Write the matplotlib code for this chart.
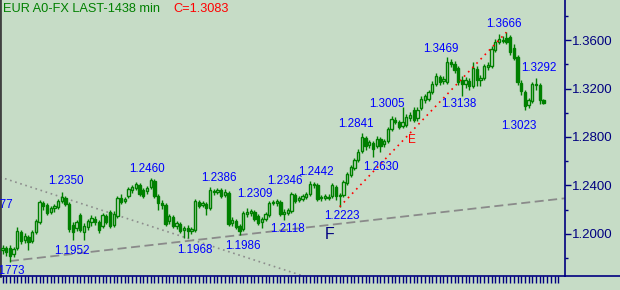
import matplotlib
matplotlib.use("Agg")
import matplotlib.pyplot as plt
from matplotlib.lines import Line2D
import numpy as np

plt.rcParams['font.family'] = ['Liberation Sans', 'DejaVu Sans']

# ---------------- data ----------------
opens = [1.1865,1.1882,1.1882,1.1832,1.1882,1.2014,1.1948,1.1973,1.1940,1.2014,
         1.2097,1.2254,1.2238,1.2180,1.2213,1.2221,1.2271,1.2295,1.2246,1.2072,
         1.2047,1.2155,1.2014,1.2055,1.2097,1.2122,1.2097,1.2064,1.2147,1.2180,
         1.2072,1.2147,1.2295,1.2271,1.2312,1.2362,1.2378,1.2403,1.2362,1.2353,
         1.2386,1.2436,1.2312,1.2254,1.2238,1.2105,1.2138,1.2064,1.2080,1.2031,
         1.2047,1.2022,1.2031,1.2262,1.2238,1.2246,1.2213,1.2353,1.2345,1.2362,
         1.2320,1.2337,1.2089,1.2105,1.2064,1.2039,1.2163,1.2171,1.2180,1.2147,
         1.2097,1.2122,1.2155,1.2254,1.2254,1.2262,1.2163,1.2171,1.2188,1.2320,
         1.2279,1.2287,1.2304,1.2329,1.2403,1.2403,1.2295,1.2295,1.2304,1.2312,
         1.2386,1.2312,1.2320,1.2420,1.2486,1.2544,1.2610,1.2684,1.2792,1.2734,
         1.2750,1.2725,1.2783,1.2742,1.2767,1.2866,1.2940,1.2924,1.2891,1.2899,
         1.2957,1.3023,1.2957,1.3040,1.3106,1.3114,1.3172,1.3238,1.3296,1.3263,
         1.3255,1.3420,1.3404,1.3371,1.3271,1.3238,1.3263,1.3222,1.3362,1.3271,
         1.3288,1.3379,1.3387,1.3519,1.3586,1.3602,1.3619,1.3627,1.3536,1.3462,
         1.3247,1.3172,1.3065,1.3098,1.3230,1.3230,1.3106]
highs = [1.1907,1.1898,1.1907,1.1890,1.2055,1.2031,1.2006,1.1989,1.2031,1.2122,
         1.2279,1.2271,1.2254,1.2229,1.2246,1.2287,1.2345,1.2312,1.2262,1.2097,
         1.2113,1.2171,1.2089,1.2122,1.2155,1.2147,1.2113,1.2171,1.2163,1.2196,
         1.2188,1.2312,1.2329,1.2304,1.2386,1.2403,1.2428,1.2420,1.2378,1.2395,
         1.2461,1.2453,1.2329,1.2279,1.2254,1.2163,1.2155,1.2105,1.2097,1.2064,
         1.2072,1.2055,1.2287,1.2279,1.2271,1.2262,1.2386,1.2370,1.2378,1.2378,
         1.2370,1.2353,1.2138,1.2122,1.2080,1.2188,1.2213,1.2204,1.2196,1.2163,
         1.2138,1.2180,1.2271,1.2279,1.2287,1.2279,1.2204,1.2213,1.2345,1.2337,
         1.2312,1.2329,1.2345,1.2436,1.2428,1.2420,1.2320,1.2329,1.2329,1.2420,
         1.2403,1.2337,1.2445,1.2511,1.2568,1.2626,1.2701,1.2833,1.2808,1.2775,
         1.2767,1.2808,1.2800,1.2783,1.2883,1.2974,1.2965,1.2940,1.3048,1.2990,
         1.3007,1.3048,1.3048,1.3139,1.3156,1.3189,1.3263,1.3329,1.3313,1.3304,
         1.3462,1.3445,1.3428,1.3387,1.3304,1.3296,1.3288,1.3420,1.3387,1.3313,
         1.3404,1.3420,1.3553,1.3610,1.3652,1.3635,1.3668,1.3643,1.3569,1.3478,
         1.3271,1.3189,1.3122,1.3255,1.3288,1.3247,1.3114]
lows = [1.1832,1.1816,1.1766,1.1808,1.1865,1.1915,1.1923,1.1865,1.1923,1.1998,
        1.2080,1.2196,1.2155,1.2163,1.2180,1.2204,1.2254,1.2229,1.2014,1.1948,
        1.2022,1.2014,1.1948,1.2031,1.2064,1.2072,1.2006,1.2047,1.2080,1.2047,
        1.2055,1.2130,1.2246,1.2254,1.2295,1.2337,1.2362,1.2312,1.2295,1.2329,
        1.2370,1.2295,1.2196,1.2204,1.2064,1.2080,1.2047,1.2039,1.2006,1.1965,
        1.1965,1.1998,1.2014,1.2213,1.2221,1.2155,1.2196,1.2320,1.2329,1.2295,
        1.2304,1.2064,1.2064,1.2039,1.1989,1.2022,1.2138,1.2147,1.2105,1.2072,
        1.2047,1.2105,1.2138,1.2238,1.2229,1.2147,1.2113,1.2155,1.2171,1.2254,
        1.2262,1.2271,1.2287,1.2312,1.2378,1.2271,1.2271,1.2279,1.2279,1.2295,
        1.2279,1.2221,1.2304,1.2403,1.2469,1.2527,1.2593,1.2668,1.2692,1.2709,
        1.2635,1.2709,1.2676,1.2717,1.2750,1.2849,1.2907,1.2866,1.2874,1.2883,
        1.2932,1.2924,1.2932,1.3023,1.3081,1.3098,1.3156,1.3222,1.3230,1.3238,
        1.3238,1.3379,1.3329,1.3230,1.3139,1.3205,1.3189,1.3205,1.3222,1.3222,
        1.3271,1.3354,1.3371,1.3503,1.3569,1.3577,1.3569,1.3478,1.3437,1.3230,
        1.3147,1.3023,1.3040,1.3081,1.3189,1.3073,1.3073]
closes = [1.1882,1.1849,1.1816,1.1874,1.2022,1.1940,1.1981,1.1931,1.2014,1.2105,
          1.2262,1.2229,1.2171,1.2213,1.2229,1.2271,1.2304,1.2246,1.2039,1.2014,
          1.2097,1.2031,1.2064,1.2105,1.2130,1.2097,1.2031,1.2155,1.2097,1.2064,
          1.2163,1.2295,1.2262,1.2287,1.2370,1.2386,1.2411,1.2329,1.2312,1.2378,
          1.2445,1.2312,1.2254,1.2238,1.2080,1.2147,1.2064,1.2089,1.2022,1.2047,
          1.2022,1.2039,1.2271,1.2229,1.2254,1.2213,1.2362,1.2345,1.2362,1.2312,
          1.2345,1.2080,1.2113,1.2055,1.2022,1.2171,1.2180,1.2188,1.2122,1.2089,
          1.2122,1.2163,1.2254,1.2262,1.2271,1.2163,1.2180,1.2196,1.2329,1.2271,
          1.2295,1.2312,1.2329,1.2411,1.2411,1.2287,1.2304,1.2312,1.2295,1.2403,
          1.2312,1.2320,1.2428,1.2494,1.2552,1.2610,1.2676,1.2800,1.2725,1.2759,
          1.2701,1.2783,1.2725,1.2767,1.2866,1.2949,1.2924,1.2883,1.2924,1.2965,
          1.2982,1.2940,1.3023,1.3114,1.3139,1.3172,1.3238,1.3304,1.3255,1.3280,
          1.3420,1.3404,1.3354,1.3255,1.3238,1.3271,1.3222,1.3371,1.3271,1.3288,
          1.3387,1.3395,1.3528,1.3586,1.3610,1.3594,1.3586,1.3503,1.3453,1.3255,
          1.3180,1.3056,1.3106,1.3238,1.3238,1.3106,1.3083]

# price annotations: text, bar position, price position
ann_text  = ["1.2350","1.1952","1.2460","1.1968","1.2386","1.2309",
             "1.1986","1.2346","1.2118","1.2442","1.2223","1.2841","1.2630","1.3005",
             "1.3138","1.3469","1.3666","1.3292","1.3023"]
ann_x     = [17.1, 18.8, 39.0, 52.0, 58.4, 68.0,
             65.0, 76.3, 77.0, 84.6, 91.6, 95.4, 102.2, 103.8,
             123.2, 118.4, 135.2, 144.8, 139.4]
ann_y     = [1.2432, 1.1857, 1.2535, 1.1865, 1.2461, 1.2329,
             1.1898, 1.2432, 1.2039, 1.2507, 1.2146, 1.2907, 1.2552, 1.3073,
             1.3073, 1.3528, 1.3735, 1.3371, 1.2891]
# labels partly hidden past the left edge (right end position given)
edge_text = ["1.1773", "1.2077"]
edge_x    = [6.07, 2.83]
edge_y    = [1.1692, 1.2238]

# trend lines (bar index, price)
down_x, down_y = [-0.7, 82.0], [1.2469, 1.1642]
up_x, up_y = [2.0, 151.8], [1.1774, 1.2293]
red_x, red_y = [91.0, 136.0], [1.2223, 1.3666]

y_major = [1.20, 1.24, 1.28, 1.32, 1.36]
y_minor = [1.18, 1.22, 1.26, 1.30, 1.34, 1.38]
n_ticks = 151

# ---------------- drawing ----------------
BG = '#C6DCC6'
GREEN = '#008000'
NAVY = '#000080'

fig = plt.figure(figsize=(6.2, 2.9), dpi=100, facecolor=BG)
ax = fig.add_axes([0.0, 14/290, 565/620, 276/290])
ax.set_facecolor(BG)

idx = np.arange(len(opens))
o = np.array(opens); c = np.array(closes); h = np.array(highs); l = np.array(lows)
ax.vlines(idx, l, h, color=GREEN, linewidth=1.0, zorder=3)
up = c >= o
bottoms = np.minimum(o, c)
heights = np.maximum(np.abs(c - o), 0.0004)
ax.bar(idx[up], heights[up], bottom=bottoms[up], width=0.62, facecolor=BG,
       edgecolor=GREEN, linewidth=1.0, zorder=4)
ax.bar(idx[~up], heights[~up], bottom=bottoms[~up], width=0.62, facecolor=GREEN,
       edgecolor=GREEN, linewidth=1.0, zorder=4)

ax.plot(down_x, down_y, color='#8c8c8c', linewidth=1.2, linestyle=(0, (1, 2.2)), zorder=2)
ax.plot(up_x, up_y, color='#8a8a8a', linewidth=1.3, linestyle=(0, (5, 2.5)), zorder=2)
ax.plot(red_x, red_y, color='#FF0000', linewidth=1.2, linestyle=(0, (1, 2.6)), zorder=5)

for t, x, y in zip(ann_text, ann_x, ann_y):
    ax.text(x, y, t, color='#0000FF', fontsize=8.4, ha='center', va='center', zorder=6)
for t, x, y in zip(edge_text, edge_x, edge_y):
    ax.text(x, y, t, color='#0000FF', fontsize=8.4, ha='right', va='center', zorder=6)

ax.text(110.5, 1.2779, "E", color='#FF0000', fontsize=8.5, ha='center', va='center', zorder=6)
ax.text(88.4, 1.1990, "F", color=NAVY, fontsize=11.5, ha='center', va='center', zorder=6)

ax.set_xlim(-0.675, 151.82)
ax.set_ylim(1.16502, 1.3933)

ax.yaxis.tick_right()
ax.set_yticks(y_major)
ax.set_yticks(y_minor, minor=True)
ax.set_yticklabels([f"{v:.4f}" for v in y_major])
ax.tick_params(axis='y', which='major', direction='out', length=4, width=1, color=NAVY,
               labelcolor=NAVY, labelsize=9.5, pad=1)
ax.tick_params(axis='y', which='minor', direction='out', length=2.5, width=1, color=NAVY)
ax.set_xticks(np.arange(n_ticks))
ax.set_xticklabels([])
ax.tick_params(axis='x', which='major', direction='out', length=5, width=1, color=NAVY)

ax.spines['top'].set_visible(False)
ax.spines['right'].set_color(NAVY)
ax.spines['right'].set_linewidth(1.2)
ax.spines['bottom'].set_color(NAVY)
ax.spines['bottom'].set_linewidth(1.2)
ax.spines['left'].set_color('#404040')
ax.spines['left'].set_linewidth(2)

# bottom line continues under the price scale
fig.add_artist(Line2D([565/620, 1.0], [14/290, 14/290], color=NAVY, linewidth=1.2,
                      transform=fig.transFigure))

fig.text(3/620, 1 - 8.5/290, "EUR A0-FX LAST-1438 min", color=GREEN, fontsize=9.2,
         ha='left', va='center')
fig.text(173/620, 1 - 8.5/290, "C=1.3083", color='#FF0000', fontsize=9.2,
         ha='left', va='center')

fig.savefig("out.png", dpi=100, facecolor=BG)
